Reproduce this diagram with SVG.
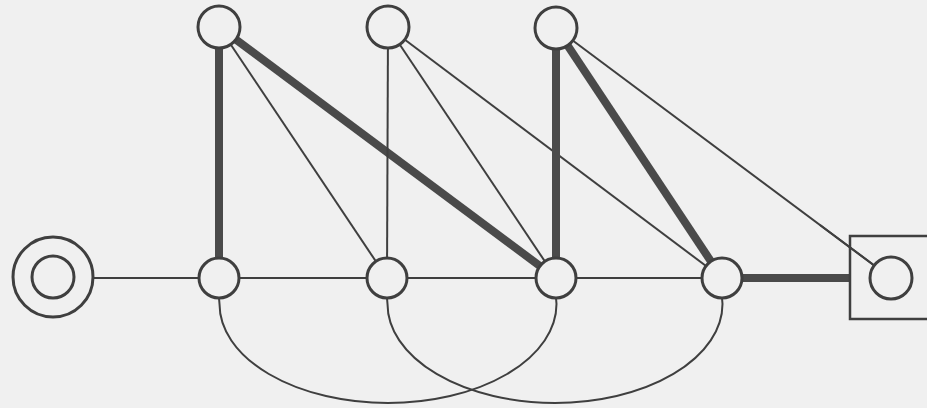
<svg xmlns="http://www.w3.org/2000/svg" width="927" height="408" viewBox="0 0 927 408">
<style>
.thin{stroke:#3f3f3f;stroke-width:2;fill:none}
.thick{stroke:#4a4a4a;stroke-width:8;fill:none}
.node{fill:#f0f0f0;stroke:#3f3f3f;stroke-width:3}
</style>
<rect width="927" height="408" fill="#f0f0f0"/>
<g id="connectors">
<line class="thin" x1="53" y1="278" x2="219" y2="278"/>
<line class="thin" x1="219" y1="278" x2="387" y2="278"/>
<line class="thin" x1="387" y1="278" x2="556" y2="278"/>
<line class="thin" x1="556" y1="278" x2="722" y2="278"/>
<line class="thick" x1="722" y1="278" x2="850" y2="278"/>
<line class="thick" x1="219" y1="27" x2="219" y2="278"/>
<line class="thin" x1="219" y1="27" x2="387" y2="278"/>
<line class="thick" x1="219" y1="27" x2="556" y2="278"/>
<line class="thin" x1="388" y1="27" x2="387" y2="278"/>
<line class="thin" x1="388" y1="27" x2="556" y2="278"/>
<line class="thin" x1="388" y1="27" x2="722" y2="278"/>
<line class="thick" x1="556" y1="28" x2="556" y2="278"/>
<line class="thick" x1="556" y1="28" x2="722" y2="278"/>
<line class="thin" x1="556" y1="28" x2="891" y2="278"/>
<path class="thin" d="M219,298 L219.5,304 A168.5,99 0 0 0 556.5,304 L556,298"/>
<path class="thin" d="M387,298 L387.5,304 A167.5,99 0 0 0 722.5,304 L722,298"/>
</g>
<g id="start">
<circle class="node" cx="53" cy="277" r="40" stroke-width="2.5"/>
<circle class="node" cx="53" cy="277" r="21" stroke-width="2.5"/>
</g>
<g id="t1"><circle class="node" cx="219" cy="27" r="21"/></g>
<g id="t2"><circle class="node" cx="388" cy="27" r="21"/></g>
<g id="t3"><circle class="node" cx="556" cy="28" r="21"/></g>
<g id="b1"><circle class="node" cx="219" cy="278" r="20"/></g>
<g id="b2"><circle class="node" cx="387" cy="278" r="20"/></g>
<g id="b3"><circle class="node" cx="556" cy="278" r="20"/></g>
<g id="b4"><circle class="node" cx="722" cy="278" r="20"/></g>
<g id="end">
<rect x="850" y="236" width="90" height="83" fill="none" stroke="#3f3f3f" stroke-width="2.5"/>
<line class="thin" x1="820" y1="225" x2="891" y2="278"/>
<circle class="node" cx="891" cy="278" r="21"/>
</g>
</svg>
